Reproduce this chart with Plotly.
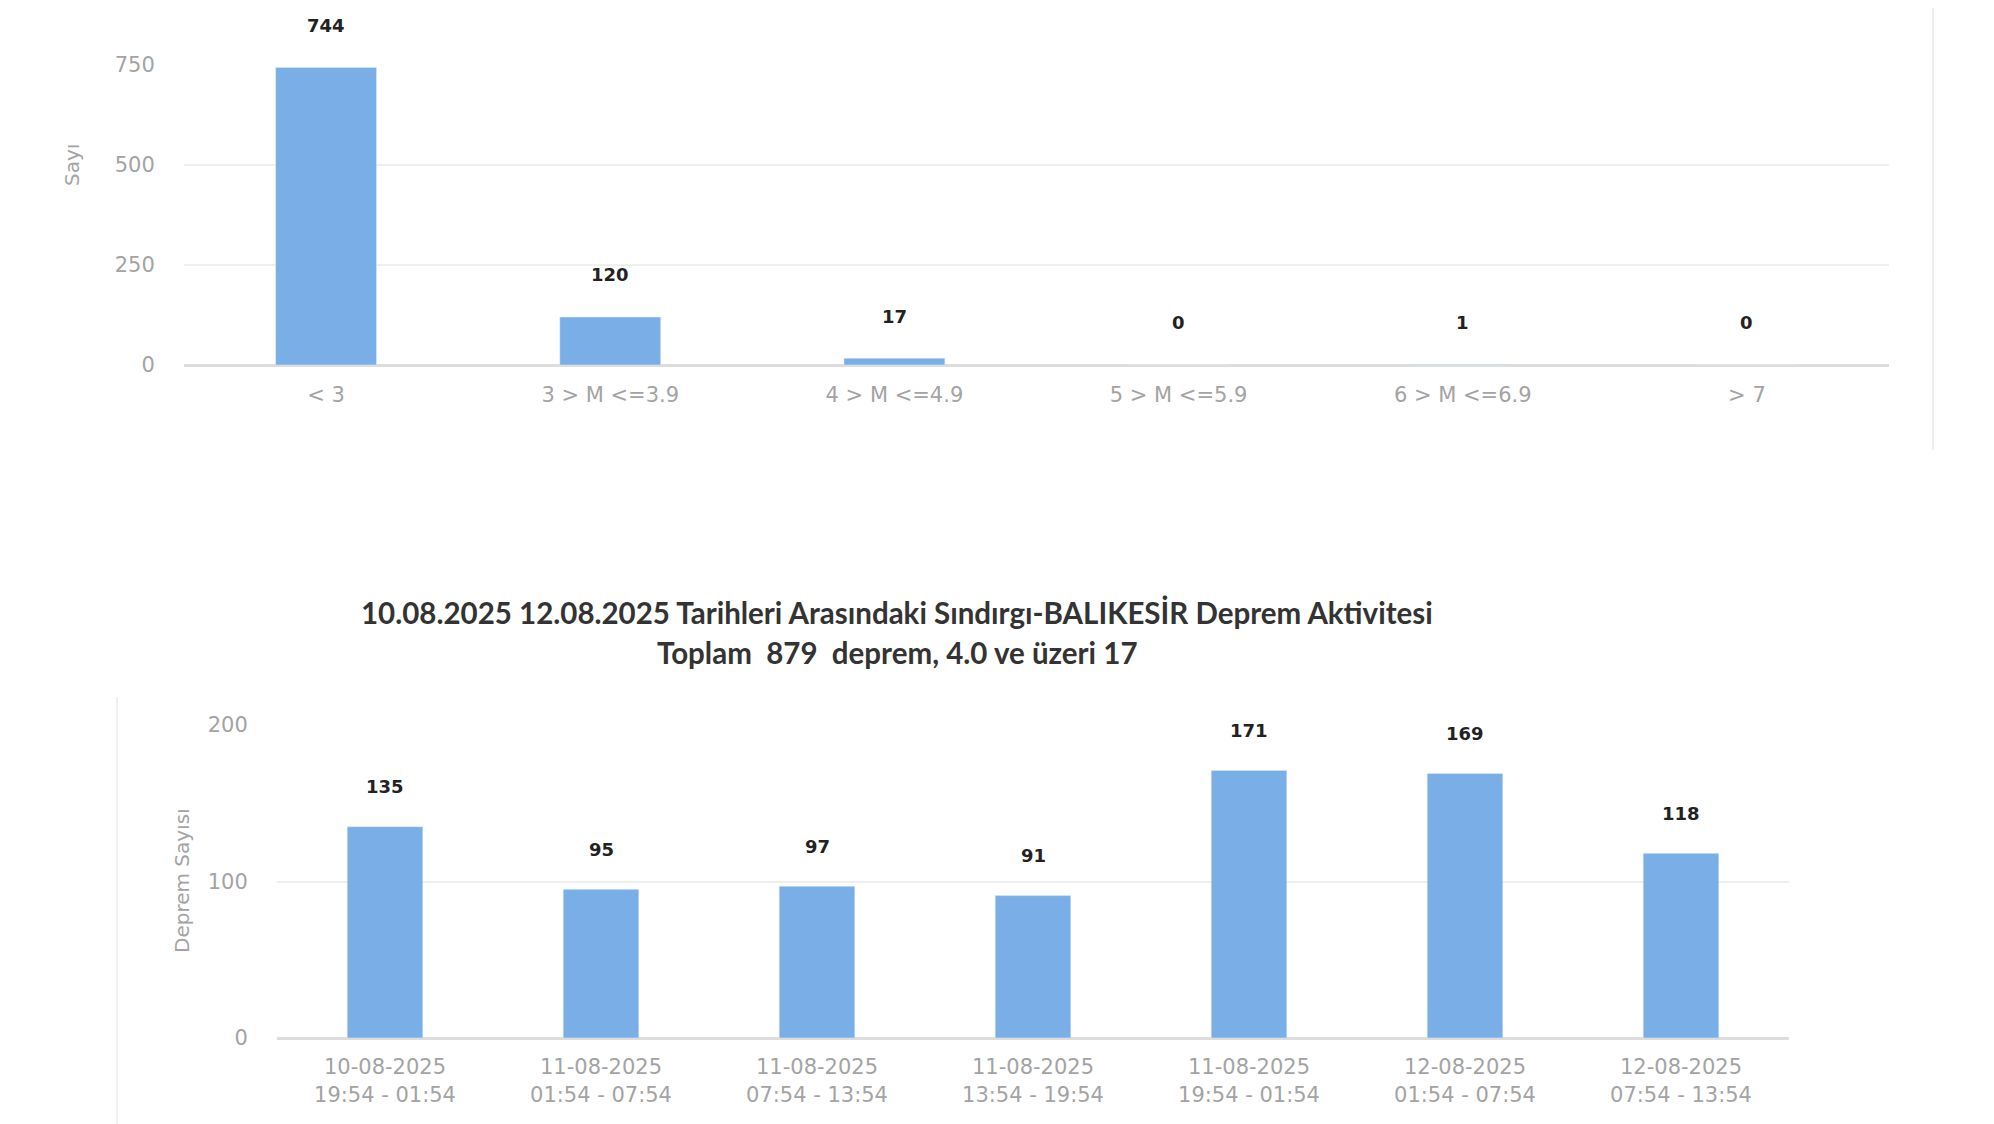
import plotly.graph_objects as go

# page has an 8px body margin, so the figure is drawn 8px right/down
OFF = 8
W, H = 1994 - OFF, 1124 - OFF

# magnitude classes (upper chart)
mag_classes = ["< 3", "3 > M <=3.9", "4 > M <=4.9", "5 > M <=5.9", "6 > M <=6.9", "> 7"]
mag_counts = [744, 120, 17, 0, 1, 0]
mag_ticks = [0, 250, 500, 750]

# six-hour periods (lower chart)
period_days = ["10-08-2025", "11-08-2025", "11-08-2025", "11-08-2025",
               "11-08-2025", "12-08-2025", "12-08-2025"]
period_hours = ["19:54 - 01:54", "01:54 - 07:54", "07:54 - 13:54", "13:54 - 19:54",
                "19:54 - 01:54", "01:54 - 07:54", "07:54 - 13:54"]
period_counts = [135, 95, 97, 91, 171, 169, 118]
period_ticks = [0, 100, 200]

title_lines = [
    "10.08.2025 12.08.2025 Tarihleri Arasındaki Sındırgı-BALIKESİR Deprem Aktivitesi",
    "Toplam\u00a0\u00a0879\u00a0\u00a0deprem, 4.0 ve üzeri 17",
]

BAR = "#79afe6"
GRID = "#efefef"
TICK = "#a3a3a3"
FONT = "DejaVu Sans"


def fx(px):
    # screen pixel -> paper fraction
    return (px - OFF) / W


def fy(px):
    return 1 - (px - OFF) / H


period_labels = [d + "<br>" + h for d, h in zip(period_days, period_hours)]

fig = go.Figure()
fig.add_trace(go.Bar(x=mag_classes, y=mag_counts, marker_color=BAR, width=0.355,
                     xaxis="x", yaxis="y", showlegend=False))
fig.add_trace(go.Bar(x=period_labels, y=period_counts, marker_color=BAR, width=0.35,
                     xaxis="x2", yaxis="y2", showlegend=False))

label_font = dict(family=FONT, size=18, color="#222222", weight="bold")
annotations = []
for c, v in zip(mag_classes, mag_counts):
    annotations.append(dict(x=c, y=v, xref="x", yref="y", text=str(v), showarrow=False,
                            xanchor="center", yanchor="middle", yshift=42, font=label_font))
for c, v in zip(period_labels, period_counts):
    annotations.append(dict(x=c, y=v, xref="x2", yref="y2", text=str(v), showarrow=False,
                            xanchor="center", yanchor="middle", yshift=40, font=label_font))

# axis titles
annotations.append(dict(x=fx(72), y=fy(165), xref="paper", yref="paper", text="Sayı",
                        textangle=-90, showarrow=False, xanchor="center", yanchor="middle",
                        font=dict(family=FONT, size=20, color=TICK)))
annotations.append(dict(x=fx(182), y=fy(881), xref="paper", yref="paper", text="Deprem Sayısı",
                        textangle=-90, showarrow=False, xanchor="center", yanchor="middle",
                        font=dict(family=FONT, size=20, color=TICK)))

# lower chart title
for txt, ypx in zip(title_lines, [612, 652]):
    annotations.append(dict(x=fx(897), y=fy(ypx), xref="paper", yref="paper", text=txt,
                            showarrow=False, xanchor="center", yanchor="middle",
                            font=dict(family="Lato", size=29.5, color="#333333", weight="bold")))

axis_common = dict(showgrid=True, gridcolor=GRID, gridwidth=2, zeroline=True,
                   zerolinecolor="#dddddd", zerolinewidth=3, showline=False,
                   ticks="outside", tickcolor="rgba(0,0,0,0)", ticklen=24, automargin=False,
                   tickfont=dict(family=FONT, size=21, color=TICK))
xaxis_common = dict(showgrid=False, zeroline=False, showline=False, ticks="outside",
                    tickcolor="rgba(0,0,0,0)", automargin=False,
                    tickfont=dict(family=FONT, size=21, color=TICK))

fig.update_layout(
    width=W, height=H,
    margin=dict(l=0, r=0, t=0, b=0, autoexpand=False),
    paper_bgcolor="white", plot_bgcolor="white",
    xaxis=dict(domain=[fx(184), fx(1889)], anchor="y", ticklen=11, **xaxis_common),
    yaxis=dict(domain=[fy(365), fy(65)], anchor="x", range=[0, 750],
               tickvals=mag_ticks, **axis_common),
    xaxis2=dict(domain=[fx(277), fx(1789)], anchor="y2", ticklen=10, **xaxis_common),
    yaxis2=dict(domain=[fy(1038), fy(725)], anchor="x2", range=[0, 200],
                tickvals=period_ticks, **axis_common),
    annotations=annotations,
    shapes=[
        dict(type="line", xref="paper", yref="paper", x0=fx(1933), x1=fx(1933),
             y0=1, y1=fy(450), line=dict(color="#eeeeee", width=2)),
        dict(type="line", xref="paper", yref="paper", x0=fx(117), x1=fx(117),
             y0=fy(697), y1=0, line=dict(color="#f0f0f0", width=2)),
    ],
)

fig.write_html("out.html")
